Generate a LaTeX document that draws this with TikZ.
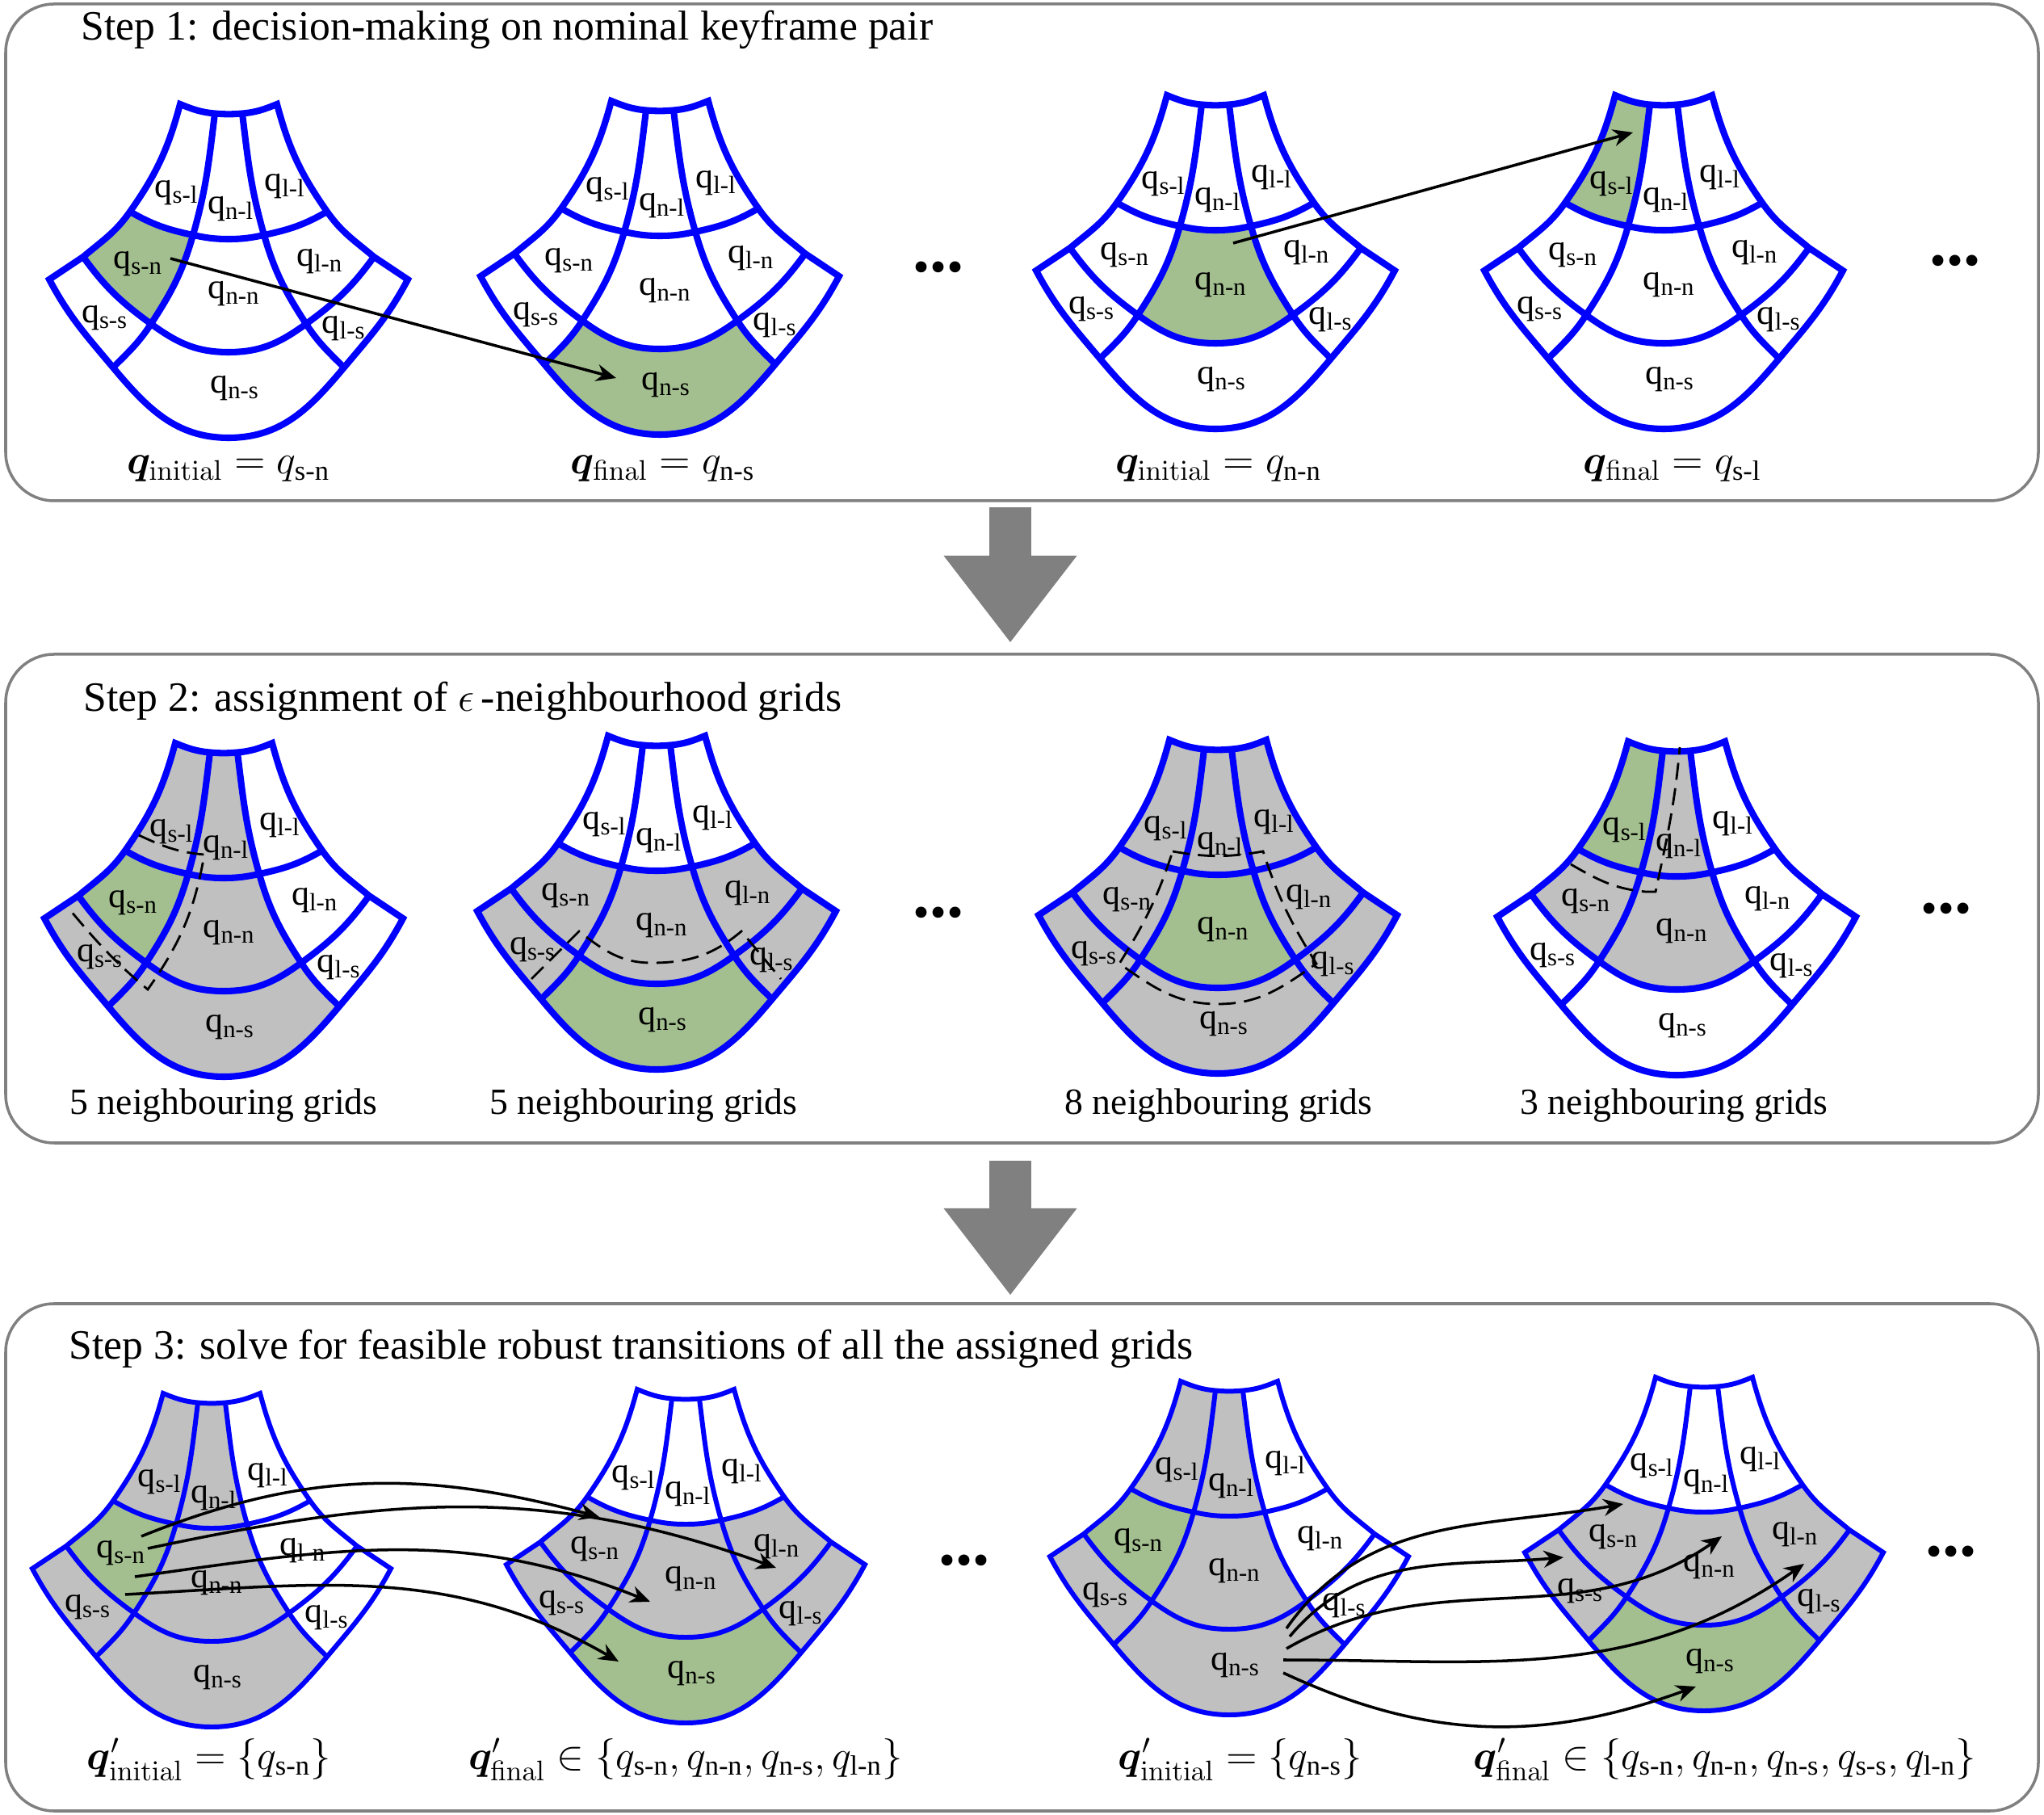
\documentclass[tikz,border=0pt]{standalone}
\usepackage{amsmath}
\usepackage{bm}
\usepackage[no-math]{fontspec}
\setmainfont{Liberation Serif}
\usetikzlibrary{positioning, arrows.meta}

\definecolor{gridblue}{RGB}{0,0,255}
\definecolor{cellgreen}{RGB}{163,191,143}
\definecolor{cellgray}{RGB}{192,192,192}
\definecolor{framegray}{RGB}{128,128,128}

\tikzset{
  gridline/.style = {draw = gridblue, line width = 2.3pt, line join = miter},
  cell/.style = {font = \fontsize{12.5}{13}\selectfont, inner sep = 0pt},
  panel/.style = {rectangle, draw = framegray, line width = 1pt, rounded corners = 0.6cm, minimum width = 25.17cm, outer sep = 0pt},
  steptitle/.style = {anchor = base west, font = \fontsize{14.7}{17}\selectfont, inner sep = 0pt},
  sublabel/.style = {anchor = base, font = \fontsize{14}{17}\selectfont, inner sep = 0pt},
  nbrlabel/.style = {anchor = base, font = \fontsize{13}{16}\selectfont, inner sep = 0pt},
  moredots/.style = {font = \fontsize{24}{24}\selectfont\bfseries, inner sep = 0pt},
  nbr/.style = {draw = black, line width = 0.8pt, dash pattern = on 6pt off 3pt},
  moves/.style = {draw = black, line width = 1pt, -{Stealth[length = 7pt, width = 6pt]}},
  bigarrow/.style = {draw = framegray, line width = 0.52cm, -{Triangle[length = 1.07cm, width = 1.65cm, line width = 0pt]}},
  pics/fan/.style n args = {9}{code = {
    \coordinate (TL) at (-0.60, 0);     \coordinate (TR) at (0.60, 0);
    \coordinate (T1) at (-0.17, -0.115); \coordinate (T2) at (0.17, -0.115);
    \coordinate (A1L) at (-1.22, -1.33); \coordinate (A1R) at (1.22, -1.33);
    \coordinate (X1) at (-0.44, -1.62);  \coordinate (X2) at (0.44, -1.62);
    \coordinate (A1M) at (0, -1.67);
    \coordinate (WL) at (-1.80, -1.89);  \coordinate (WR) at (1.80, -1.89);
    \coordinate (FL) at (-2.22, -2.17);  \coordinate (FR) at (2.22, -2.17);
    \coordinate (A2L) at (-0.96, -2.72); \coordinate (A2R) at (0.96, -2.72);
    \coordinate (A2M) at (0, -3.07);
    \coordinate (R1B) at (-1.43, -3.26); \coordinate (R2B) at (1.43, -3.26);
    \coordinate (BM) at (0, -4.13);
    \fill[#1] (TL) to[out=-22,in=175] (T1) to[out=-97,in=74] (X1) to[out=168,in=-30] (A1L) to[out=55,in=-105] (TL) -- cycle;
    \fill[#2] (T1) to[out=-5,in=-175] (T2) to[out=-83,in=106] (X2) to[out=-168,in=0] (A1M) to[out=180,in=-12] (X1) to[out=74,in=-97] (T1) -- cycle;
    \fill[#3] (T2) to[out=5,in=-158] (TR) to[out=-75,in=125] (A1R) to[out=-150,in=12] (X2) to[out=106,in=-83] (T2) -- cycle;
    \fill[#4] (A1L) to[out=-30,in=168] (X1) to[out=-106,in=57] (A2L) to[out=144,in=-54] (WL) to[out=40,in=-125] (A1L) -- cycle;
    \fill[#5] (X1) to[out=-12,in=180] (A1M) to[out=0,in=-168] (X2) to[out=-74,in=123] (A2R) to[out=-144,in=0] (A2M) to[out=180,in=-36] (A2L) to[out=57,in=-106] (X1) -- cycle;
    \fill[#6] (X2) to[out=12,in=-150] (A1R) to[out=-55,in=140] (WR) to[out=-126,in=36] (A2R) to[out=123,in=-74] (X2) -- cycle;
    \fill[#7] (WL) to[out=-54,in=144] (A2L) to[out=-123,in=45] (R1B) to[out=130,in=-62] (FL) -- (WL) -- cycle;
    \fill[#8] (A2L) to[out=-36,in=180] (A2M) to[out=0,in=-144] (A2R) to[out=-57,in=135] (R2B) to[out=-130,in=0] (BM) to[out=180,in=-50] (R1B) to[out=45,in=-123] (A2L) -- cycle;
    \fill[#9] (A2R) to[out=36,in=-126] (WR) -- (FR) to[out=-118,in=50] (R2B) to[out=135,in=-57] (A2R) -- cycle;
    \draw[gridline] (TL) to[out=-22,in=175] (T1) to[out=-5,in=-175] (T2) to[out=5,in=-158] (TR)
      to[out=-75,in=125] (A1R) to[out=-55,in=140] (WR) -- (FR) to[out=-118,in=50] (R2B)
      to[out=-130,in=0] (BM) to[out=180,in=-50] (R1B) to[out=130,in=-62] (FL) -- (WL)
      to[out=40,in=-125] (A1L) to[out=55,in=-105] (TL) -- cycle;
    \draw[gridline] (A1L) to[out=-30,in=168] (X1) to[out=-12,in=180] (A1M) to[out=0,in=-168] (X2) to[out=12,in=-150] (A1R);
    \draw[gridline] (WL) to[out=-54,in=144] (A2L) to[out=-36,in=180] (A2M) to[out=0,in=-144] (A2R) to[out=36,in=-126] (WR);
    \draw[gridline] (T1) to[out=-97,in=74] (X1) to[out=-106,in=57] (A2L) to[out=-123,in=45] (R1B);
    \draw[gridline] (T2) to[out=-83,in=106] (X2) to[out=-74,in=123] (A2R) to[out=-57,in=135] (R2B);
    \node[cell] (-sl) at (-0.64, -1.10) {q\textsubscript{s-l}};
    \node[cell] (-nl) at (0.03, -1.30) {q\textsubscript{n-l}};
    \node[cell] (-ll) at (0.70, -1.02) {q\textsubscript{l-l}};
    \node[cell] (-sn) at (-1.12, -1.98) {q\textsubscript{s-n}};
    \node[cell] (-nn) at (0.07, -2.35) {q\textsubscript{n-n}};
    \node[cell] (-ln) at (1.13, -1.95) {q\textsubscript{l-n}};
    \node[cell] (-ss) at (-1.53, -2.65) {q\textsubscript{s-s}};
    \node[cell] (-ns) at (0.08, -3.52) {q\textsubscript{n-s}};
    \node[cell] (-ls) at (1.43, -2.78) {q\textsubscript{l-s}};
  }}
}

\begin{document}
\begin{tikzpicture}
\useasboundingbox (0, 0) rectangle (25.31, -22.47);

\node[panel, minimum height = 6.15cm] (stepone) at (12.655, -3.125) {};
\node[panel, minimum height = 6.05cm] (steptwo) at (12.655, -11.125) {};
\node[panel, minimum height = 6.28cm] (stepthree) at (12.655, -19.28) {};

\draw[bigarrow, shorten <= 0.08cm, shorten >= 0.15cm] ([xshift = -0.145cm]stepone.south) -- ([xshift = -0.145cm]steptwo.north);
\draw[bigarrow, shorten <= 0.22cm, shorten >= 0.11cm] ([xshift = -0.145cm]steptwo.south) -- ([xshift = -0.145cm]stepthree.north);

\node[steptitle] (titleone) at (1.00, -0.50) {Step 1: decision-making on nominal keyframe pair};
\node[steptitle] (titletwo) at (1.03, -8.81) {Step 2: assignment of $\epsilon$\,-neighbourhood grids};
\node[steptitle] (titlethree) at (0.85, -16.82) {Step 3: solve for feasible robust transitions of all the assigned grids};

\pic (g11) at (2.83, -1.29) {fan={white}{white}{white}{cellgreen}{white}{white}{white}{white}{white}};
\pic (g12) at (8.17, -1.25) {fan={white}{white}{white}{white}{white}{white}{white}{cellgreen}{white}};
\pic (g13) at (15.05, -1.18) {fan={white}{white}{white}{white}{cellgreen}{white}{white}{white}{white}};
\pic (g14) at (20.60, -1.18) {fan={cellgreen}{white}{white}{white}{white}{white}{white}{white}{white}};
\node[moredots] (dotsone) at (11.62, -3.31) {...};
\node[moredots] (dotstwo) at (24.21, -3.23) {...};

\draw[moves] ([shift = {(0.40, 0.07)}]g11-sn.center) -- ([shift = {(-0.62, 0.09)}]g12-ns.center);
\draw[moves] ([shift = {(0.15, 0.52)}]g13-nn.center) -- ([shift = {(0.26, 0.64)}]g14-sl.center);

\node[sublabel] (initone) at (2.83, -5.87) {$\bm{q}_{\mathrm{initial}} = q_{\text{s-n}}$};
\node[sublabel] (finone) at (8.21, -5.87) {$\bm{q}_{\mathrm{final}} = q_{\text{n-s}}$};
\node[sublabel] (inittwo) at (15.09, -5.87) {$\bm{q}_{\mathrm{initial}} = q_{\text{n-n}}$};
\node[sublabel] (fintwo) at (20.71, -5.87) {$\bm{q}_{\mathrm{final}} = q_{\text{s-l}}$};

\pic (g21) at (2.77, -9.20) {fan={cellgray}{cellgray}{white}{cellgreen}{cellgray}{white}{cellgray}{cellgray}{white}};
\pic (g22) at (8.13, -9.11) {fan={white}{white}{white}{cellgray}{cellgray}{cellgray}{cellgray}{cellgreen}{cellgray}};
\pic (g23) at (15.08, -9.16) {fan={cellgray}{cellgray}{cellgray}{cellgray}{cellgreen}{cellgray}{cellgray}{cellgray}{cellgray}};
\pic (g24) at (20.76, -9.18) {fan={cellgreen}{cellgray}{white}{cellgray}{cellgray}{white}{white}{white}{white}};
\node[moredots] (dotsthree) at (11.62, -11.30) {...};
\node[moredots] (dotsfour) at (24.10, -11.25) {...};

\begin{scope}[shift = {(2.77, -9.20)}]
  \draw[nbr] (-1.05, -1.14) to[out=-25,in=175] (-0.24, -1.38) to[out=-100,in=55] (-0.94, -3.05) to[out=140,in=-50] (-1.90, -2.07);
\end{scope}
\begin{scope}[shift = {(8.13, -9.11)}]
  \draw[nbr] (-1.55, -3.01) -- (-0.96, -2.42) to[out=-38,in=180] (-0.06, -2.81) to[out=0,in=-140] (1.05, -2.42) -- (1.54, -3.01);
\end{scope}
\begin{scope}[shift = {(15.08, -9.16)}]
  \draw[nbr] (-0.56, -1.38) to[out=-10,in=-170] (0.56, -1.38) to[out=-72,in=122] (1.22, -2.77) to[out=-145,in=0] (0, -3.27)
    to[out=180,in=-35] (-1.22, -2.77) to[out=58,in=-108] (-0.56, -1.38);
\end{scope}
\begin{scope}[shift = {(20.76, -9.18)}]
  \draw[nbr] (-1.31, -1.52) to[out=-30,in=175] (-0.38, -1.86) -- (-0.26, -1.86) to[out=78,in=-95] (0.04, -0.07);
\end{scope}

\node[nbrlabel] (nbrone) at (2.77, -13.80) {5 neighbouring grids};
\node[nbrlabel] (nbrtwo) at (7.97, -13.80) {5 neighbouring grids};
\node[nbrlabel] (nbrthree) at (15.09, -13.80) {8 neighbouring grids};
\node[nbrlabel] (nbrfour) at (20.73, -13.80) {3 neighbouring grids};

\begin{scope}[gridline/.append style = {line width = 1.7pt}]
\pic (g31) at (2.62, -17.25) {fan={cellgray}{cellgray}{white}{cellgreen}{cellgray}{white}{cellgray}{cellgray}{white}};
\pic (g32) at (8.49, -17.20) {fan={white}{white}{white}{cellgray}{cellgray}{cellgray}{cellgray}{cellgreen}{cellgray}};
\pic (g33) at (15.22, -17.10) {fan={cellgray}{cellgray}{white}{cellgreen}{cellgray}{white}{cellgray}{cellgray}{white}};
\pic (g34) at (21.10, -17.05) {fan={white}{white}{white}{cellgray}{cellgray}{cellgray}{cellgray}{cellgreen}{cellgray}};
\end{scope}
\node[moredots] (dotsfive) at (11.94, -19.32) {...};
\node[moredots] (dotssix) at (24.16, -19.21) {...};

\draw[moves] ([shift = {(0.25, 0.21)}]g31-sn.center) to[out=22,in=165] ([shift = {(0.05, 0.40)}]g32-sn.center);
\draw[moves] ([shift = {(0.33, 0.06)}]g31-sn.center) to[out=12,in=160] ([shift = {(-0.01, -0.26)}]g32-ln.center);
\draw[moves] ([shift = {(0.17, -0.29)}]g31-sn.center) to[out=8,in=158] ([shift = {(-0.51, -0.28)}]g32-nn.center);
\draw[moves] ([shift = {(0.05, -0.51)}]g31-sn.center) to[out=3,in=150] ([shift = {(-0.91, 0.15)}]g32-ns.center);

\draw[moves] ([shift = {(0.63, 0.46)}]g33-ns.center) to[out=55,in=190] ([shift = {(0.12, 0.41)}]g34-sn.center);
\draw[moves] ([shift = {(0.67, 0.36)}]g33-ns.center) to[out=50,in=185] ([shift = {(-0.21, 0.42)}]g34-ss.center);
\draw[moves] ([shift = {(0.63, 0.21)}]g33-ns.center) to[out=30,in=215] ([shift = {(0.15, 0.38)}]g34-nn.center);
\draw[moves] ([shift = {(0.59, 0.07)}]g33-ns.center) to[out=0,in=-145] ([shift = {(0.11, -0.36)}]g34-ln.center);
\draw[moves] ([shift = {(0.59, -0.09)}]g33-ns.center) to[out=-25,in=200] ([shift = {(-0.18, -0.31)}]g34-ns.center);

\node[sublabel] (initthree) at (2.59, -21.90) {$\bm{q}'_{\mathrm{initial}} = \{q_{\text{s-n}}\}$};
\node[sublabel] (finthree) at (8.49, -21.90) {$\bm{q}'_{\mathrm{final}} \in \{q_{\text{s-n}}, q_{\text{n-n}}, q_{\text{n-s}}, q_{\text{l-n}}\}$};
\node[sublabel] (initfour) at (15.36, -21.90) {$\bm{q}'_{\mathrm{initial}} = \{q_{\text{n-s}}\}$};
\node[sublabel] (finfour) at (21.36, -21.90) {$\bm{q}'_{\mathrm{final}} \in \{q_{\text{s-n}}, q_{\text{n-n}}, q_{\text{n-s}}, q_{\text{s-s}}, q_{\text{l-n}}\}$};
\end{tikzpicture}
\end{document}
